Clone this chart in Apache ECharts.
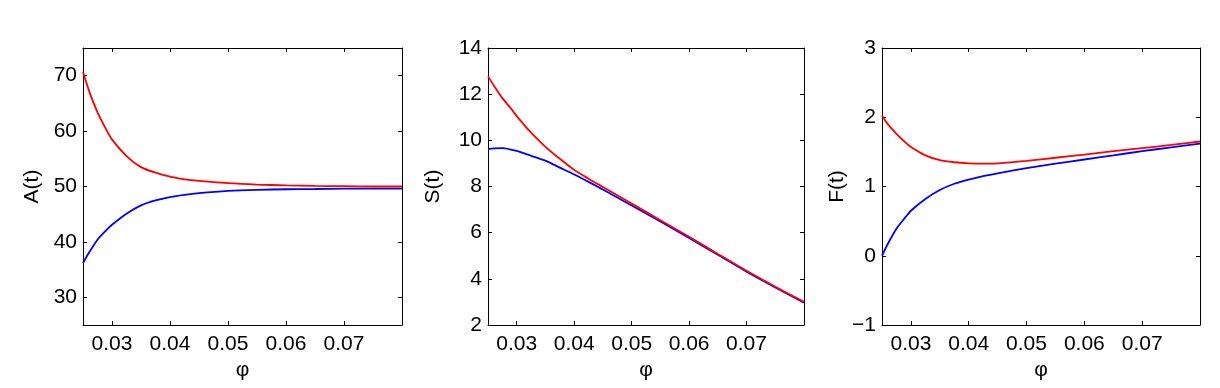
<!DOCTYPE html>
<html>
<head>
<meta charset="utf-8">
<script src="https://cdn.jsdelivr.net/npm/echarts@6/dist/echarts.min.js"></script>
<style>
  html, body { margin: 0; padding: 0; background: #fff; }
  #chart { width: 1220px; height: 388px; }
</style>
</head>
<body>
<div id="chart"></div>
<script>
// sample points on the φ axis (shared by all three panels)
const phi = [0.025, 0.026, 0.0275, 0.029, 0.03, 0.0325, 0.035, 0.0375, 0.04, 0.0425, 0.045, 0.05, 0.055, 0.06, 0.065, 0.07, 0.075, 0.08]

// A(t)
const aRed  = [70.7, 67.4, 63.4, 60.3, 58.5, 55.5, 53.5, 52.5, 51.8, 51.3, 51.0, 50.6, 50.35, 50.2, 50.1, 50.05, 50.0, 50.0]
const aBlue = [36.2, 38.0, 40.4, 42.1, 43.1, 45.1, 46.6, 47.5, 48.1, 48.5, 48.8, 49.2, 49.4, 49.5, 49.55, 49.6, 49.6, 49.6]
// S(t)
const sRed  = [12.77, 12.38, 11.83, 11.38, 11.05, 10.33, 9.72, 9.2, 8.72, 8.34, 7.98, 7.26, 6.54, 5.82, 5.08, 4.35, 3.66, 3.0]
const sBlue = [9.62, 9.65, 9.66, 9.6, 9.54, 9.33, 9.12, 8.82, 8.52, 8.2, 7.87, 7.18, 6.49, 5.77, 5.04, 4.31, 3.63, 2.97]
// F(t)
const fRed  = [2.02, 1.9, 1.76, 1.64, 1.57, 1.45, 1.38, 1.35, 1.335, 1.33, 1.335, 1.37, 1.415, 1.46, 1.51, 1.555, 1.6, 1.65]
const fBlue = [0.0, 0.17, 0.39, 0.55, 0.65, 0.82, 0.95, 1.04, 1.1, 1.15, 1.19, 1.265, 1.33, 1.39, 1.45, 1.51, 1.565, 1.62]

// tick labels
const phiTicks = [0.03, 0.04, 0.05, 0.06, 0.07]
const aTicks = [30, 40, 50, 60, 70]
const sTicks = [2, 4, 6, 8, 10, 12, 14]
const fTicks = [-1, 0, 1, 2, 3]

const FONT = "'Liberation Sans', Arial, Helvetica, sans-serif"

const panels = [
  { name: 'A(t)', red: aRed, blue: aBlue, ticks: aTicks, min: 25, max: 75, left: 83, right: 818, nameGap: 40 },
  { name: 'S(t)', red: sRed, blue: sBlue, ticks: sTicks, min: 2, max: 14, left: 488, right: 416, nameGap: 44 },
  { name: 'F(t)', red: fRed, blue: fBlue, ticks: fTicks, min: -1, max: 3, left: 882, right: 20, nameGap: 31 }
]

const axisLine = { show: true, onZero: false, lineStyle: { color: '#000', width: 1 } }
const fmt = v => String(v).replace('-', '\u2212')

const grid = []
const xAxis = []
const yAxis = []
const series = []

panels.forEach((p, i) => {
  grid.push({ left: p.left, right: p.right, top: 48, bottom: 63, containLabel: false })

  // bottom φ axis with labels
  xAxis.push({
    type: 'value', gridIndex: i, min: 0.025, max: 0.08, position: 'bottom',
    name: 'φ', nameLocation: 'middle', nameGap: 33,
    nameTextStyle: { color: '#000', fontSize: 21, fontFamily: FONT },
    axisLine: axisLine,
    axisTick: { show: true, inside: true, length: 4, customValues: phiTicks, lineStyle: { color: '#000' } },
    axisLabel: { show: true, customValues: phiTicks, margin: 9, color: '#000', fontSize: 21, fontFamily: FONT, formatter: v => v.toFixed(2) },
    splitLine: { show: false }
  })
  // top mirror axis (box + ticks)
  xAxis.push({
    type: 'value', gridIndex: i, min: 0.025, max: 0.08, position: 'top',
    axisLine: axisLine,
    axisTick: { show: true, inside: true, length: 4, customValues: phiTicks, lineStyle: { color: '#000' } },
    axisLabel: { show: false },
    splitLine: { show: false }
  })
  // left value axis with labels
  yAxis.push({
    type: 'value', gridIndex: i, min: p.min, max: p.max, position: 'left',
    name: p.name, nameLocation: 'middle', nameGap: p.nameGap, nameRotate: 90,
    nameTextStyle: { color: '#000', fontSize: 21, fontFamily: FONT },
    axisLine: axisLine,
    axisTick: { show: true, inside: true, length: 4, customValues: p.ticks, lineStyle: { color: '#000' } },
    axisLabel: { show: true, customValues: p.ticks, margin: 6, color: '#000', fontSize: 21, fontFamily: FONT, formatter: fmt },
    splitLine: { show: false }
  })
  // right mirror axis
  yAxis.push({
    type: 'value', gridIndex: i, min: p.min, max: p.max, position: 'right',
    axisLine: axisLine,
    axisTick: { show: true, inside: true, length: 4, customValues: p.ticks, lineStyle: { color: '#000' } },
    axisLabel: { show: false },
    splitLine: { show: false }
  })

  const line = (vals, color) => ({
    type: 'line',
    xAxisIndex: i * 2,
    yAxisIndex: i * 2,
    data: phi.map((x, k) => [x, vals[k]]),
    showSymbol: false,
    smooth: 0.25,
    lineStyle: { color: color, width: 1.8 },
    itemStyle: { color: color },
    z: color === '#ff0000' ? 3 : 2
  })
  series.push(line(p.blue, '#0000ff'))
  series.push(line(p.red, '#ff0000'))
})

const chart = echarts.init(document.getElementById('chart'))
chart.setOption({
  animation: false,
  backgroundColor: '#fff',
  grid: grid,
  xAxis: xAxis,
  yAxis: yAxis,
  series: series
})
</script>
</body>
</html>
